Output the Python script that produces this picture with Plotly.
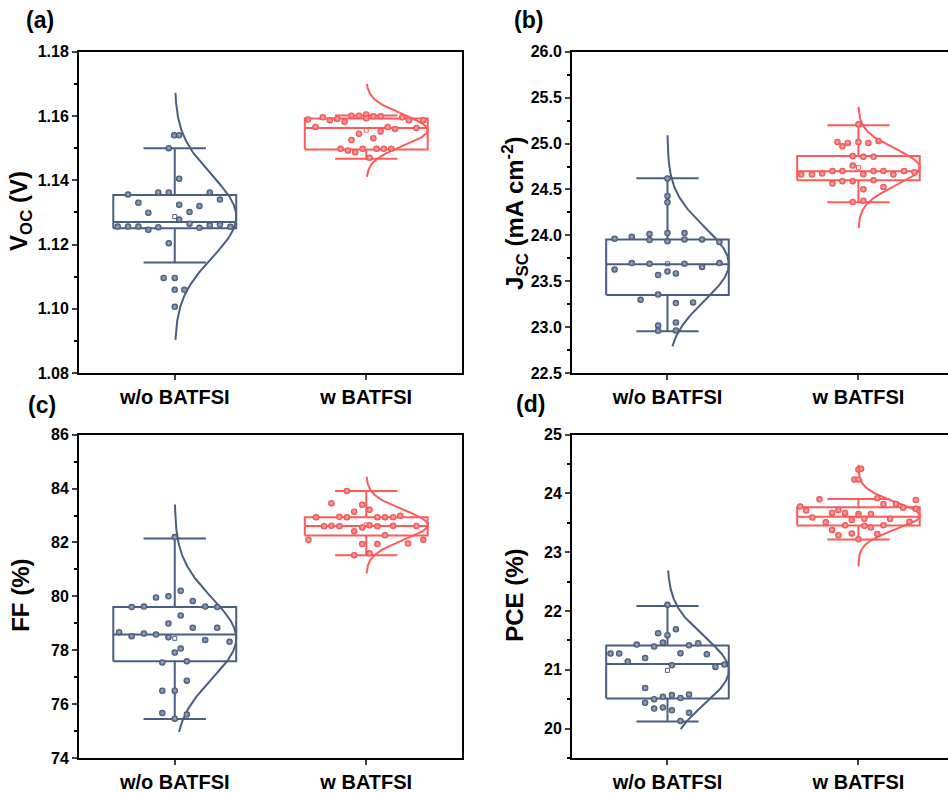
import numpy as np
import plotly.graph_objects as go

# ---------------- data ----------------
categories = ["w/o BATFSI", "w BATFSI"]

# (a) Voc
a_wo_y = [1.1540, 1.1540, 1.1500, 1.1405, 1.1356, 1.1362, 1.1362, 1.1362, 1.1340, 1.1330,
          1.1324, 1.1320, 1.1299, 1.1301, 1.1278, 1.1256, 1.1256, 1.1256, 1.1246, 1.1254,
          1.1265, 1.1252, 1.1260, 1.1262, 1.1255, 1.1204, 1.1096, 1.1096, 1.1059, 1.1059, 1.1006]
a_wo_dx = [-0.003, 0.023, -0.031, 0.023, -0.244, -0.086, -0.031, 0.183, 0.236, -0.19,
           0.023, 0.129, -0.138, 0.077, 0.023, -0.298, -0.244, -0.19, -0.138, -0.086,
           0.077, 0.129, 0.183, 0.236, 0.29, -0.031, -0.058, 0.0, 0.0, 0.05, 0.0]
a_w_y = [1.1589, 1.1596, 1.1587, 1.1591, 1.1582, 1.1601, 1.1601, 1.1605, 1.1593, 1.1599,
         1.1599, 1.1596, 1.1587, 1.1587, 1.1566, 1.1566, 1.1560, 1.1563, 1.1545, 1.1552,
         1.1525, 1.1531, 1.1498, 1.1493, 1.1487, 1.1498, 1.1498, 1.1498, 1.1498, 1.1470]
a_w_dx = [-0.304, -0.227, -0.19, -0.152, -0.113, -0.077, -0.038, 0.0, 0.0, 0.037,
          0.075, 0.188, 0.223, 0.298, -0.265, 0.112, 0.15, 0.262, -0.038, 0.075,
          -0.077, 0.037, -0.134, -0.096, -0.058, -0.019, 0.054, 0.092, 0.131, 0.017]

# (b) Jsc
b_wo_y = [24.62, 24.43, 24.36, 23.964, 23.985, 24.015, 23.949, 24.025, 23.935, 24.025,
          23.956, 23.956, 23.927, 23.698, 23.691, 23.691, 23.698, 23.629, 23.655, 23.567,
          23.607, 23.585, 23.356, 23.298, 23.262, 23.269, 23.018, 22.960, 23.051, 22.964]
b_wo_dx = [0.0, 0.0, 0.0, -0.277, -0.187, -0.094, -0.094, 0.0, 0.0, 0.089,
           0.089, 0.181, 0.272, -0.187, -0.094, 0.089, 0.272, -0.277, 0.181, -0.049,
           0.0, 0.044, -0.049, -0.141, 0.044, 0.134, -0.049, -0.049, 0.044, 0.044]
b_w_y = [25.211, 25.018, 24.971, 25.007, 25.018, 25.007, 25.029, 24.865, 24.855, 24.855,
         24.76, 24.662, 24.662, 24.673, 24.702, 24.702, 24.665, 24.702, 24.702, 24.662,
         24.702, 24.687, 24.564, 24.589, 24.589, 24.60, 24.527, 24.502, 24.364, 24.378]
b_w_dx = [0.0, -0.11, -0.084, -0.056, 0.0, 0.052, 0.105, -0.03, 0.026, 0.079,
          -0.03, -0.30, -0.244, -0.19, -0.136, -0.084, 0.026, 0.079, 0.131, 0.183,
          0.239, 0.293, -0.136, -0.084, -0.03, 0.079, 0.131, 0.026, -0.03, 0.026]

# (c) FF
c_wo_y = [82.20, 80.21, 79.96, 80.00, 79.83, 79.60, 79.62, 79.62, 79.60, 79.29,
          78.99, 78.83, 78.83, 78.67, 78.52, 78.62, 78.58, 78.48, 78.38, 78.31,
          78.06, 77.92, 77.54, 77.59, 76.87, 76.50, 76.50, 75.67, 75.61, 75.46]
c_wo_dx = [0.0, 0.031, -0.098, -0.033, 0.094, -0.225, -0.161, 0.159, 0.222, 0.031,
           -0.033, 0.094, 0.222, -0.291, -0.225, -0.161, -0.098, -0.033, 0.159, 0.286,
           0.031, 0.0, -0.065, 0.063, 0.063, -0.065, 0.0, -0.065, 0.063, 0.0]
c_w_y = [83.91, 83.46, 83.40, 83.21, 83.14, 82.94, 82.95, 82.94, 82.94, 82.94,
         82.94, 82.99, 82.60, 82.62, 82.60, 82.56, 82.64, 82.60, 82.62, 82.61,
         82.42, 82.27, 82.10, 82.10, 81.94, 81.94, 81.96, 81.53, 81.60]
c_w_dx = [-0.101, -0.182, -0.021, 0.017, -0.063, -0.262, -0.14, -0.101, 0.058, 0.098,
          0.14, 0.178, -0.22, -0.182, -0.14, -0.021, 0.017, 0.058, 0.14, 0.262,
          -0.063, 0.098, -0.302, 0.298, -0.021, 0.058, 0.218, -0.063, 0.017]

# (d) PCE
d_wo_y = [22.107, 21.692, 21.623, 21.590, 21.430, 21.396, 21.464, 21.418, 21.453, 21.276,
          21.276, 21.282, 21.265, 21.140, 21.200, 21.077, 21.050, 21.090, 20.690, 20.440,
          20.500, 20.540, 20.570, 20.520, 20.580, 20.340, 20.360, 20.310, 20.270, 20.130]
d_wo_dx = [0.0, 0.044, -0.049, 0.0, -0.161, -0.07, -0.024, 0.113, 0.161, -0.298,
           -0.253, 0.068, 0.206, -0.208, -0.117, 0.023, 0.251, 0.298, -0.117, -0.117,
           -0.07, -0.024, 0.023, 0.068, 0.113, -0.07, -0.024, 0.023, 0.113, 0.068]
d_w_y = [24.41, 24.42, 24.24, 24.24, 23.90, 23.92, 23.89, 23.82, 23.82, 23.78,
         23.76, 23.71, 23.72, 23.74, 23.67, 23.67, 23.65, 23.65, 23.59, 23.55,
         23.57, 23.57, 23.51, 23.46, 23.45, 23.42, 23.46, 23.52, 23.38, 23.31,
         23.29, 23.32, 23.22]
d_w_dx = [0.0, 0.014, -0.021, 0.0, -0.204, 0.099, 0.30, 0.131, 0.197, -0.305,
          0.234, -0.274, -0.105, 0.30, -0.138, -0.07, 0.0, 0.065, -0.241, -0.035,
          0.031, 0.166, -0.171, -0.07, 0.031, 0.065, 0.131, 0.267, -0.138, 0.099,
          -0.105, -0.035, 0.0]

# box statistics per panel: [w/o, w]
a_q1, a_med, a_q3 = [1.1251, 1.1496], [1.1270, 1.1563], [1.1354, 1.1592]
a_wlo, a_whi, a_mean = [1.1144, 1.1467], [1.1500, 1.1602], [1.1287, 1.1556]
a_sd, a_clo, a_chi = [0.0128, 0.0048], [1.0903, 1.1411], [1.1672, 1.1700]

b_q1, b_med, b_q3 = [23.349, 24.600], [23.684, 24.698], [23.956, 24.865]
b_wlo, b_whi, b_mean = [22.956, 24.360], [24.622, 25.200], [23.690, 24.740]
b_sd, b_clo, b_chi = [0.40, 0.20], [22.79, 24.08], [25.09, 25.40]

c_q1, c_med, c_q3 = [77.59, 82.26], [78.58, 82.61], [79.60, 82.94]
c_wlo, c_whi, c_mean = [75.45, 81.53], [82.15, 83.91], [78.44, 82.65]
c_sd, c_clo, c_chi = [1.50, 0.56], [74.97, 80.85], [83.41, 84.44]

d_q1, d_med, d_q3 = [20.513, 23.457], [21.100, 23.605], [21.413, 23.764]
d_wlo, d_whi, d_mean = [20.120, 23.218], [22.085, 23.907], [20.990, 23.620]
d_sd, d_clo, d_chi = [0.57, 0.235], [19.99, 22.76], [22.69, 24.49]

# ---------------- style ----------------
LINE_COL = ["#4a5f80", "#ff5a5a"]
PT_COL = ["#3a4d6c", "#ee4444"]
PT_HI = ["#a9b6ca", "#ffb4b4"]
FONT = "Arial, 'Liberation Sans', sans-serif"
HW = 0.321   # box half width (x units)
CW = 0.163   # whisker cap half width

W, H = 948, 793
def fx(v):
    return v / W
def fy(v):
    # paper fraction (from bottom) for a target pixel row
    return 1 - ((v - 8) / 0.98) / H

panels = [
    dict(key="a", xd=[79, 462], yd=[52, 375], xr=[-0.5, 1.5], yr=[1.08, 1.18], dt=0.02, mdt=0.01, fmt=".2f",
         pts=[(a_wo_y, a_wo_dx), (a_w_y, a_w_dx)],
         st=(a_q1, a_med, a_q3, a_wlo, a_whi, a_mean, a_sd, a_clo, a_chi), right=True),
    dict(key="b", xd=[572, 948], yd=[52, 375], xr=[-0.5, 1.469], yr=[22.5, 26.0], dt=0.5, mdt=0.25, fmt=".1f",
         pts=[(b_wo_y, b_wo_dx), (b_w_y, b_w_dx)],
         st=(b_q1, b_med, b_q3, b_wlo, b_whi, b_mean, b_sd, b_clo, b_chi), right=False),
    dict(key="c", xd=[79, 462], yd=[437, 762], xr=[-0.5, 1.5], yr=[74, 86], dt=2, mdt=1, fmt="d",
         pts=[(c_wo_y, c_wo_dx), (c_w_y, c_w_dx)],
         st=(c_q1, c_med, c_q3, c_wlo, c_whi, c_mean, c_sd, c_clo, c_chi), right=True),
    dict(key="d", xd=[572, 948], yd=[437, 762], xr=[-0.5, 1.469], yr=[19.5, 25], dt=1, mdt=0.5, fmt="d",
         pts=[(d_wo_y, d_wo_dx), (d_w_y, d_w_dx)],
         st=(d_q1, d_med, d_q3, d_wlo, d_whi, d_mean, d_sd, d_clo, d_chi), right=False),
]

fig = go.Figure()
layout = {}
for i, p in enumerate(panels):
    n = "" if i == 0 else str(i + 1)
    xa, ya = "x" + n, "y" + n
    q1, med, q3, wlo, whi, mean, sd, clo, chi = p["st"]
    for g in range(2):
        c = g
        col = LINE_COL[g]
        fig.add_trace(go.Scatter(x=[c - HW, c + HW, c + HW, c - HW, c - HW],
                                 y=[q1[g], q1[g], q3[g], q3[g], q1[g]], mode="lines",
                                 line=dict(color=col, width=2), xaxis=xa, yaxis=ya, hoverinfo="skip"))
        fig.add_trace(go.Scatter(x=[c - HW, c + HW], y=[med[g], med[g]], mode="lines",
                                 line=dict(color=col, width=2), xaxis=xa, yaxis=ya, hoverinfo="skip"))
        fig.add_trace(go.Scatter(x=[c, c, None, c, c, None, c - CW, c + CW, None, c - CW, c + CW],
                                 y=[q3[g], whi[g], None, q1[g], wlo[g], None, whi[g], whi[g], None, wlo[g], wlo[g]],
                                 mode="lines", line=dict(color=col, width=2), xaxis=xa, yaxis=ya, hoverinfo="skip"))
        yy = np.linspace(clo[g], chi[g], 200)
        xx = c + HW * np.exp(-(yy - mean[g]) ** 2 / (2 * sd[g] ** 2))
        fig.add_trace(go.Scatter(x=xx, y=yy, mode="lines", line=dict(color=col, width=2),
                                 xaxis=xa, yaxis=ya, hoverinfo="skip"))
        ys, dxs = p["pts"][g]
        fig.add_trace(go.Scatter(x=[c + d for d in dxs], y=ys, mode="markers",
                                 marker=dict(size=6.5, color=PT_COL[g],
                                             gradient=dict(type="radial", color=PT_HI[g]),
                                             line=dict(width=0)),
                                 xaxis=xa, yaxis=ya, hoverinfo="skip"))
        fig.add_trace(go.Scatter(x=[c], y=[mean[g]], mode="markers",
                                 marker=dict(symbol="square-open", size=4, color=col, line=dict(width=1)),
                                 xaxis=xa, yaxis=ya, hoverinfo="skip"))

    layout["xaxis" + n] = dict(
        domain=[fx(p["xd"][0]), fx(p["xd"][1])], range=p["xr"], anchor=ya,
        tickvals=[0, 1], ticktext=categories, ticks="outside", ticklen=5, tickwidth=2,
        showline=True, linewidth=2, linecolor="black", mirror=True, showgrid=False, zeroline=False,
        tickfont=dict(family=FONT, size=20, color="black", weight="bold"))
    layout["yaxis" + n] = dict(
        domain=[fy(p["yd"][1]), fy(p["yd"][0])], range=p["yr"], anchor=xa,
        dtick=p["dt"], tick0=p["yr"][0] if p["key"] != "d" else 20, tickformat=p["fmt"],
        ticks="outside", ticklen=5, tickwidth=2,
        minor=dict(dtick=p["mdt"], ticks="outside", ticklen=3, tickwidth=1.5, tickcolor="black"),
        showline=True, linewidth=2, linecolor="black", mirror=p["right"], showgrid=False, zeroline=False,
        tickfont=dict(family=FONT, size=16, color="black", weight="bold"))

ann = []
for txt, x, y in [("(a)", 40, 20), ("(b)", 528, 20), ("(c)", 42, 407), ("(d)", 530, 406)]:
    ann.append(dict(text="<b>%s</b>" % txt, x=fx(x), y=fy(y), xref="paper", yref="paper",
                    showarrow=False, font=dict(family=FONT, size=23, color="black"),
                    xanchor="center", yanchor="middle"))
for txt, x, y in [("V<sub>OC</sub> (V)", 21, 212), ("J<sub>SC</sub> (mA cm<sup>-2</sup>)", 515, 215),
                  ("FF (%)", 21, 599), ("PCE (%)", 515, 599)]:
    ann.append(dict(text="<b>%s</b>" % txt, x=fx(x), y=fy(y), xref="paper", yref="paper",
                    showarrow=False, textangle=-90, font=dict(family=FONT, size=24, color="black"),
                    xanchor="center", yanchor="middle"))

fig.update_layout(width=W, height=H, margin=dict(l=0, r=0, t=0, b=0), showlegend=False,
                  plot_bgcolor="white", paper_bgcolor="white", annotations=ann, **layout)
fig.write_html("out.html")
